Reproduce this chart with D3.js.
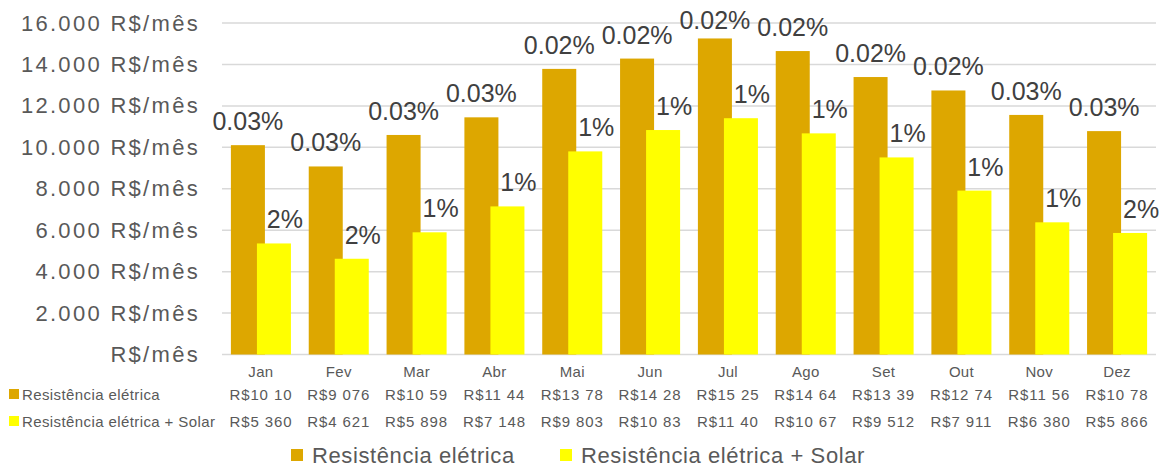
<!DOCTYPE html>
<html>
<head>
<meta charset="utf-8">
<script src="https://cdn.jsdelivr.net/npm/d3@7"></script>
<style>
  html, body { margin: 0; padding: 0; background: #fff; }
  svg { display: block; font-family: "Liberation Sans", Arial, sans-serif; }
</style>
</head>
<body>
<svg id="chart" width="1168" height="468"></svg>
<script>
// Monthly cost: electric resistance heating vs. resistance + solar
const months = ["Jan", "Fev", "Mar", "Abr", "Mai", "Jun", "Jul", "Ago", "Set", "Out", "Nov", "Dez"];
const resistencia = [10104, 9076, 10596, 11447, 13785, 14283, 15254, 14646, 13392, 12743, 11563, 10782];
const resistenciaSolar = [5360, 4621, 5898, 7148, 9803, 10834, 11405, 10673, 9512, 7911, 6380, 5866];
const pctResistencia = ["0.03%", "0.03%", "0.03%", "0.03%", "0.02%", "0.02%", "0.02%", "0.02%", "0.02%", "0.02%", "0.03%", "0.03%"];
const pctSolar = ["2%", "2%", "1%", "1%", "1%", "1%", "1%", "1%", "1%", "1%", "1%", "2%"];
const yTicks = [0, 2000, 4000, 6000, 8000, 10000, 12000, 14000, 16000];
const seriesNames = ["Resistência elétrica", "Resistência elétrica + Solar"];

const COLORS = ["#DDA700", "#FFFF00"];
const GRID = "#D9D9D9";
const AXIS_TEXT = "#595959";
const LABEL_TEXT = "#404040";

const svg = d3.select("#chart");
const plot = { left: 222, right: 1156, top: 23, bottom: 354.5 };

const x = d3.scaleBand().domain(months).range([plot.left, plot.right]);
const y = d3.scaleLinear().domain([0, 16000]).range([plot.bottom, plot.top]);

const ptBR = d3.formatLocale({ decimal: ",", thousands: ".", grouping: [3], currency: ["R$", ""] });
const fmtThousands = ptBR.format(",d");
const tableLocale = d3.formatLocale({ decimal: ",", thousands: " ", grouping: [3], currency: ["R$", ""] });
const fmtTable = tableLocale.format(",d");

// Gridlines
svg.append("g")
  .selectAll("line")
  .data(yTicks)
  .join("line")
  .attr("x1", plot.left)
  .attr("x2", plot.right)
  .attr("y1", d => y(d))
  .attr("y2", d => y(d))
  .attr("stroke", GRID)
  .attr("stroke-width", 1.5);

// Value axis
const yAxis = d3.axisLeft(y)
  .tickValues(yTicks)
  .tickSize(0)
  .tickPadding(0)
  .tickFormat(d => d === 0 ? "R$/mês" : fmtThousands(d) + " R$/mês");

const gy = svg.append("g")
  .attr("transform", "translate(200,0)")
  .call(yAxis);
gy.select(".domain").remove();
gy.selectAll("text")
  .attr("fill", AXIS_TEXT)
  .attr("font-size", 22)
  .attr("letter-spacing", 2.3)
  .attr("font-family", '"Liberation Sans", Arial, sans-serif');

// Bars: grouped with slight overlap
const barW = x.bandwidth() * 0.437;
const step = barW * 0.765;
const groupW = barW + step;
const barX = (m, i) => x(m) + x.bandwidth() / 2 - groupW / 2 + i * step;

const series = [resistencia, resistenciaSolar];
series.forEach((vals, si) => {
  svg.append("g")
    .selectAll("rect")
    .data(vals)
    .join("rect")
    .attr("x", (d, i) => barX(months[i], si))
    .attr("y", d => y(d))
    .attr("width", barW)
    .attr("height", d => y(0) - y(d))
    .attr("fill", COLORS[si]);
});

// Data labels above the bars
const pctLabels = [pctResistencia, pctSolar];
const labelShift = [0, 11];
series.forEach((vals, si) => {
  svg.append("g")
    .selectAll("text")
    .data(vals)
    .join("text")
    .attr("x", (d, i) => barX(months[i], si) + barW / 2 + labelShift[si])
    .attr("y", d => Math.max(y(d) - 15, 29))
    .attr("text-anchor", "middle")
    .attr("font-size", 25)
    .attr("fill", LABEL_TEXT)
    .text((d, i) => pctLabels[si][i]);
});

// Category labels
svg.append("g")
  .selectAll("text")
  .data(months)
  .join("text")
  .attr("x", d => x(d) + x.bandwidth() / 2)
  .attr("y", 377)
  .attr("text-anchor", "middle")
  .attr("font-size", 15)
  .attr("letter-spacing", 0.3)
  .attr("fill", AXIS_TEXT)
  .text(d => d);

// Data table beneath the axis
const rowBaselines = [400, 427];
const table = svg.append("g");
series.forEach((vals, si) => {
  table.append("rect")
    .attr("x", 9)
    .attr("y", rowBaselines[si] - 11)
    .attr("width", 10)
    .attr("height", 10)
    .attr("fill", COLORS[si]);
  table.append("text")
    .attr("x", 22)
    .attr("y", rowBaselines[si])
    .attr("font-size", 15)
    .attr("letter-spacing", 0.4)
    .attr("fill", AXIS_TEXT)
    .text(seriesNames[si]);

  table.append("g")
    .selectAll("text")
    .data(vals)
    .join("text")
    .attr("x", (d, i) => x(months[i]) + x.bandwidth() / 2)
    .attr("y", rowBaselines[si])
    .attr("text-anchor", "middle")
    .attr("font-size", 15)
    .attr("letter-spacing", 0.9)
    .attr("fill", AXIS_TEXT)
    .text(d => "R$" + fmtTable(d))
    .each(function () {
      // cells are narrow: drop trailing characters that do not fit
      const maxW = 66;
      let s = this.textContent;
      while (this.getComputedTextLength() > maxW && s.length > 1) {
        s = s.slice(0, -1).trimEnd();
        this.textContent = s;
      }
    });
});

// Legend
const legendX = [291, 560];
const legend = svg.append("g");
seriesNames.forEach((name, si) => {
  legend.append("rect")
    .attr("x", legendX[si])
    .attr("y", 449)
    .attr("width", 12)
    .attr("height", 12)
    .attr("fill", COLORS[si]);
  legend.append("text")
    .attr("x", legendX[si] + 21)
    .attr("y", 463)
    .attr("font-size", 22)
    .attr("letter-spacing", 0.6)
    .attr("fill", AXIS_TEXT)
    .text(name);
});
</script>
</body>
</html>
